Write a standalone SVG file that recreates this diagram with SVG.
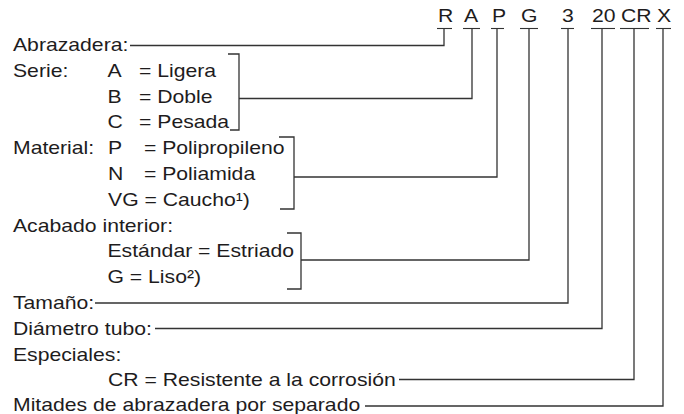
<svg xmlns="http://www.w3.org/2000/svg" width="684" height="414" viewBox="0 0 684 414">
<style>
text{font-family:"Liberation Sans",Arial,Helvetica,sans-serif;font-size:19px;fill:#1e1c1d}
.c{fill:none;stroke:#333;stroke-width:1.3}
.u{stroke:#333;stroke-width:1.1}
</style>
<rect width="684" height="414" fill="#fff"/>
<g id="code">
<g transform="scale(1.115 1)">
<text x="392.8" y="22">R</text>
<text x="416.1" y="22">A</text>
<text x="441.3" y="22">P</text>
<text x="467.3" y="22">G</text>
<text x="504.0" y="22">3</text>
<text x="530.9" y="22">20</text>
<text x="557.0" y="22">CR</text>
<text x="589.2" y="22">X</text>
</g>
<g class="u">
<line x1="437" y1="28.5" x2="452" y2="28.5"/>
<line x1="463" y1="28.5" x2="480" y2="28.5"/>
<line x1="491" y1="28.5" x2="504" y2="28.5"/>
<line x1="520" y1="28.5" x2="538" y2="28.5"/>
<line x1="561" y1="28.5" x2="574" y2="28.5"/>
<line x1="591" y1="28.5" x2="615" y2="28.5"/>
<line x1="620" y1="28.5" x2="649" y2="28.5"/>
<line x1="656" y1="28.5" x2="671" y2="28.5"/>
</g>
</g>
<g id="abrazadera" transform="scale(1.115 1)"><text x="11.66" y="51">Abrazadera:</text></g>
<g id="serie" transform="scale(1.115 1)">
<text x="11.66" y="76.8">Serie:</text>
<text x="96.4" y="76.8">A</text><text x="124.7" y="76.8">= Ligera</text>
<text x="96.4" y="102.6">B</text><text x="124.7" y="102.6">= Doble</text>
<text x="96.4" y="128.4">C</text><text x="124.7" y="128.4">= Pesada</text>
</g>
<g id="material" transform="scale(1.115 1)">
<text x="11.66" y="154.2">Material:</text>
<text x="96.9" y="154.2">P</text><text x="129.1" y="154.2">= Polipropileno</text>
<text x="96.9" y="180">N</text><text x="129.1" y="180">= Poliamida</text>
<text x="96.9" y="205.8">VG = Caucho¹)</text>
</g>
<g id="acabado" transform="scale(1.115 1)">
<text x="11.66" y="231.6">Acabado interior:</text>
<text x="96.4" y="257.4">Estándar = Estriado</text>
<text x="96.4" y="283.2">G = Liso²)</text>
</g>
<g id="tamano" transform="scale(1.115 1)"><text x="11.66" y="309">Tamaño:</text></g>
<g id="diametro" transform="scale(1.115 1)"><text x="11.66" y="334.8">Diámetro tubo:</text></g>
<g id="especiales" transform="scale(1.115 1)">
<text x="11.66" y="360.6">Especiales:</text>
<text x="96.9" y="386.4">CR = Resistente a la corrosión</text>
</g>
<g id="mitades" transform="scale(1.115 1)"><text x="11.66" y="411">Mitades de abrazadera por separado</text></g>
<g id="connectors" class="c">
<path d="M130 45.5H444V28.5"/>
<path d="M228 54H239V130H230"/>
<path d="M239 98.5H472V28.5"/>
<path d="M279 137H294V209H280"/>
<path d="M294 177H497V28.5"/>
<path d="M287 233H301V289H287"/>
<path d="M301 260H529V28.5"/>
<path d="M95 303H568V28.5"/>
<path d="M155 328.5H602V28.5"/>
<path d="M399 379.5H634V28.5"/>
<path d="M365 406H663V28.5"/>
</g>
</svg>
